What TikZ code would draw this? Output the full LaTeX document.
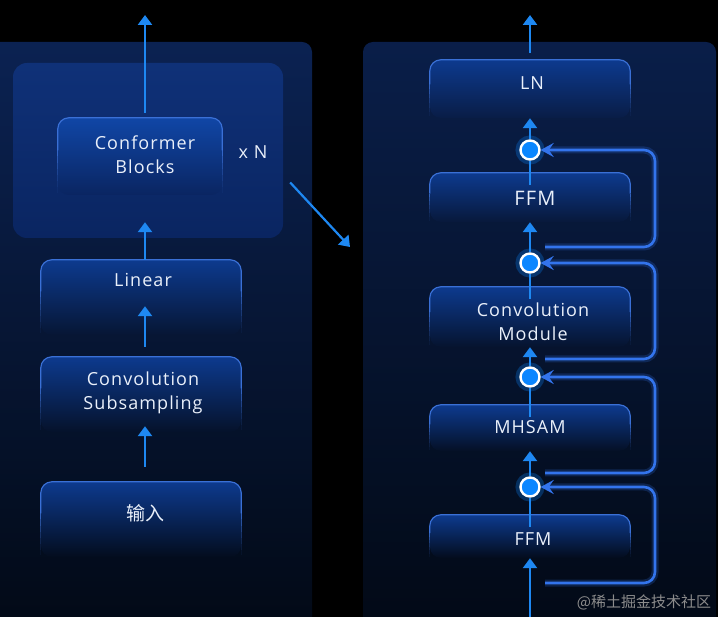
\documentclass[tikz,border=0pt]{standalone}
\usepackage{fontspec}
\setmainfont{Open Sans}[LetterSpace=6]
\newfontfamily\cjk{Noto Sans CJK SC}
\usetikzlibrary{arrows.meta,calc}
\definecolor{paneltop}{HTML}{0B2252}
\definecolor{panelbot}{HTML}{020915}
\definecolor{innertop}{HTML}{0F3178}
\definecolor{innerbot}{HTML}{0A2561}
\definecolor{boxtop}{HTML}{0D3A8E}
\definecolor{conftop}{HTML}{1046A6}
\definecolor{boxedge}{HTML}{3A70D6}
\definecolor{arrowc}{HTML}{1E88F2}
\definecolor{loopc}{HTML}{3374EC}
\definecolor{circc}{HTML}{0A86FF}
\definecolor{txtc}{HTML}{EAF0FA}
\newcommand\fadeedge[1]{%
  \draw[edgeline, rounded corners=11pt]
    ($(#1.north west)!0.42!(#1.south west)$) |- (#1.north) -| ($(#1.north east)!0.42!(#1.south east)$);
  \foreach \a/\b/\o in {0.42/0.5/0.85, 0.5/0.58/0.68, 0.58/0.66/0.52, 0.66/0.74/0.38,
                        0.74/0.82/0.26, 0.82/0.9/0.15, 0.9/0.97/0.07} {
    \draw[edgeline, line cap=butt, draw opacity=\o]
      ($(#1.north west)!\a!(#1.south west)$) -- ($(#1.north west)!\b!(#1.south west)$);
    \draw[edgeline, line cap=butt, draw opacity=\o]
      ($(#1.north east)!\a!(#1.south east)$) -- ($(#1.north east)!\b!(#1.south east)$);
  }%
}
\begin{document}
\begin{tikzpicture}[x=1pt,y=-1pt,
  boxnode/.style={rectangle, rounded corners=11pt, inner sep=0pt, minimum width=200pt,
     top color=boxtop, bottom color=paneltop!#1!panelbot},
  edgeline/.style={draw=boxedge, line width=1.2pt},
  lbl/.style={text=txtc, font=\fontsize{18}{24}\selectfont, align=center, inner sep=0pt},
  arr/.style={draw=arrowc, line width=2.6pt, -{Triangle[width=14pt,length=10pt]}},
  stem/.style={draw=arrowc, line width=2.6pt},
  loopln/.style={draw=loopc, line width=2.6pt, rounded corners=11pt,
     -{Stealth[width=14pt,length=13pt,inset=5pt]},
     preaction={draw=loopc, line width=7pt, draw opacity=0.22}},
  circ/.style={circle, inner sep=0pt, minimum size=19pt, fill=circc, draw=white, line width=2.4pt,
     preaction={draw=circc, line width=10pt, draw opacity=0.28}}
]
\useasboundingbox (0,0) rectangle (718,617);
\fill[black] (0,0) rectangle (718,617);
% panels
\path[rounded corners=10pt, top color=paneltop, bottom color=panelbot]
  (-20,640) -- (-20,42) -- (312,42) -- (312,640) -- cycle;
\path[rounded corners=10pt, top color=paneltop!85!panelbot, bottom color=panelbot]
  (363,640) -- (363,42) -- (716,42) -- (716,640) -- cycle;
% inner panel
\node[rectangle, rounded corners=14pt, minimum width=270pt, minimum height=175pt,
  top color=innertop, bottom color=innerbot, inner sep=0pt] (np) at (148,150.5) {};

% left boxes
\node[boxnode=0, minimum width=164pt, minimum height=77pt, top color=conftop, bottom color=innerbot] (conf) at (140,156.5) {};
\fadeedge{conf}
\node[lbl] (confT) at (145,155) {Conformer\\Blocks};
\node[lbl] (xn) at (253,152) {x N};
\node[boxnode=51, minimum height=75pt] (lin) at (141,297.5) {};
\fadeedge{lin}
\node[lbl] (linT) at (143,280) {Linear};
\node[boxnode=35, minimum height=75pt] (cs) at (141,394.5) {};
\fadeedge{cs}
\node[lbl] (csT) at (143,393) {Convolution\\Subsampling};
\node[boxnode=14, minimum height=75pt] (inp) at (141,519.5) {};
\fadeedge{inp}
\node[lbl, font=\cjk\fontsize{19}{24}\selectfont] (inpT) at (145,513) {输入};

% left arrows
\coordinate (out1) at (145,15);
\draw[arr] ([xshift=4pt,yshift=15pt]inp.north) -- ([xshift=4pt,yshift=6pt]cs.south);
\draw[arr] ([xshift=4pt,yshift=10pt]cs.north) -- ([xshift=4pt,yshift=29pt]lin.south);
\draw[arr] ([xshift=4pt]lin.north) -- ([xshift=-3pt,yshift=16pt]np.south);
\draw[arr] ([xshift=5pt,yshift=5pt]conf.north) -- (out1);
\coordinate (d1) at (350,247);
\draw[arr, line width=2.2pt] ([xshift=7pt,yshift=-32pt]np.east) -- (d1);

% right boxes
\node[boxnode=80, minimum height=58pt] (ln) at (530,89) {};
\fadeedge{ln}
\node[lbl] (lnT) at (532,83) {LN};
\node[boxnode=62, minimum height=49pt] (ffm1) at (530,197.5) {};
\fadeedge{ffm1}
\node[lbl, font=\fontsize{20}{24}\selectfont] (ffm1T) at (535,198) {FFM};
\node[boxnode=42, minimum height=60pt] (cm) at (530,317) {};
\fadeedge{cm}
\node[lbl] (cmT) at (533,322) {Convolution\\Module};
\node[boxnode=27, minimum height=46pt] (mh) at (530,428) {};
\fadeedge{mh}
\node[lbl] (mhT) at (530,427) {MHSAM};
\node[boxnode=12, minimum height=43pt] (ffm2) at (530,536.5) {};
\fadeedge{ffm2}
\node[lbl] (ffm2T) at (533,539) {FFM};

% circles
\node[circ] (c1) at (530,150) {};
\node[circ] (c2) at (530,263) {};
\node[circ] (c3) at (530,377) {};
\node[circ] (c4) at (530,487) {};

% right arrows
\coordinate (out2) at (530,15);
\coordinate (in2) at (530,620);
\draw[arr] ([yshift=7pt]ln.north) -- (out2);
\draw[arr] (c1) -- (ln.south);
\draw[stem] ([yshift=-12pt]ffm1.north) -- (c1);
\draw[arr] (c2) -- (ffm1.south);
\draw[stem] ([yshift=-12pt]cm.north) -- (c2);
\draw[arr] (c3) -- (cm.south);
\draw[stem] ([yshift=-12pt]mh.north) -- (c3);
\draw[arr] (c4) -- (mh.south);
\draw[stem] ([yshift=-12pt]ffm2.north) -- (c4);
\draw[arr] (in2) -- (ffm2.south);

% residual loops
\coordinate (rx) at (655,0);
\coordinate (b1) at (545,247);
\coordinate (b2) at (545,359);
\coordinate (b3) at (545,473);
\coordinate (b4) at (545,583);
\draw[loopln] (b1) -| (rx |- c1) -- (c1);
\draw[loopln] (b2) -| (rx |- c2) -- (c2);
\draw[loopln] (b3) -| (rx |- c3) -- (c3);
\draw[loopln] (b4) -| (rx |- c4) -- (c4);

% watermark
\node[text=white!55!black, font=\cjk\fontsize{15}{15}\selectfont, inner sep=0pt] (wm) at (644,602) {@稀土掘金技术社区};
\end{tikzpicture}
\end{document}
